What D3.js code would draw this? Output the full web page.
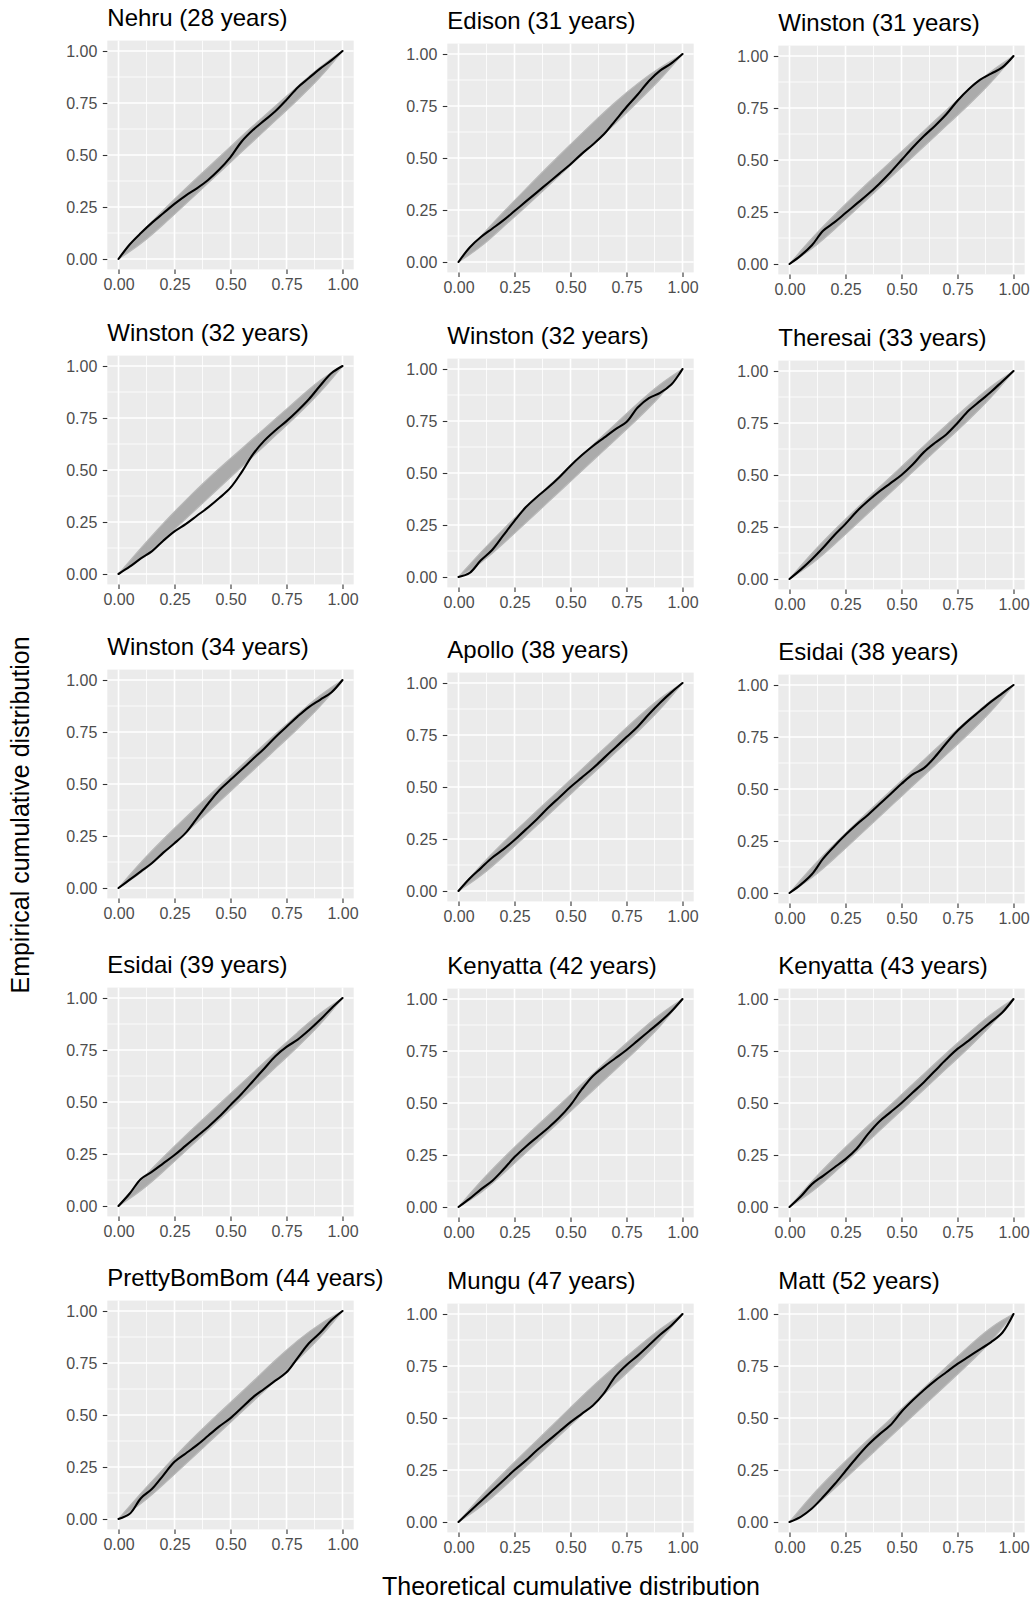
<!DOCTYPE html>
<html>
<head>
<meta charset="utf-8">
<script src="https://cdn.jsdelivr.net/npm/d3@7"></script>
<style>
body{margin:0;background:#fff;}
svg text{font-family:"Liberation Sans",Arial,Helvetica,sans-serif;}
</style>
</head>
<body>
<svg id="chart" width="1033" height="1602"></svg>
<script>
//data------------------------------------------------------
var panelNames=["Nehru","Edison","Winston","Winston","Winston","Theresai","Winston","Apollo","Esidai","Esidai","Kenyatta","Kenyatta","PrettyBomBom","Mungu","Matt"];
var panelAges=[28,31,31,32,32,33,34,38,38,39,42,43,44,47,52];

var tickValues=[0,0.25,0.5,0.75,1];
var minorValues=[0.125,0.375,0.625,0.875];

//theoretical values the curves were read at
var obsX=[0,0.05,0.1,0.15,0.2,0.25,0.3,0.35,0.4,0.45,0.5,0.55,0.6,0.65,0.7,0.75,0.8,0.85,0.9,0.95,1];
var bandX=[0,0.1,0.2,0.3,0.4,0.5,0.6,0.7,0.8,0.9,1];

//observed (black) curves
var nehruObs=[0,0.07,0.125,0.175,0.22,0.265,0.305,0.34,0.38,0.43,0.49,0.565,0.62,0.665,0.71,0.765,0.825,0.87,0.915,0.955,1];
var edisonObs=[0,0.07,0.12,0.16,0.2,0.245,0.29,0.335,0.38,0.425,0.47,0.52,0.565,0.615,0.68,0.745,0.805,0.87,0.92,0.955,1];
var winston31Obs=[0,0.04,0.09,0.16,0.2,0.245,0.29,0.335,0.385,0.44,0.5,0.56,0.615,0.665,0.72,0.785,0.84,0.885,0.915,0.945,1];
var winston32aObs=[0,0.035,0.075,0.11,0.16,0.205,0.24,0.28,0.32,0.365,0.415,0.49,0.575,0.64,0.69,0.735,0.785,0.84,0.905,0.965,1];
var winston32bObs=[0,0.02,0.08,0.13,0.2,0.27,0.335,0.385,0.43,0.48,0.535,0.585,0.63,0.67,0.71,0.745,0.815,0.86,0.885,0.925,1];
var theresaiObs=[0,0.045,0.095,0.15,0.21,0.265,0.325,0.375,0.42,0.46,0.5,0.55,0.61,0.655,0.695,0.75,0.81,0.855,0.9,0.95,1];
var winston34Obs=[0,0.04,0.08,0.12,0.17,0.215,0.265,0.335,0.405,0.47,0.52,0.57,0.62,0.67,0.725,0.775,0.825,0.87,0.905,0.94,1];
var apolloObs=[0,0.06,0.11,0.16,0.2,0.245,0.295,0.345,0.4,0.45,0.5,0.545,0.59,0.64,0.69,0.74,0.79,0.85,0.905,0.955,1];
var esidai38Obs=[0,0.04,0.09,0.165,0.225,0.28,0.33,0.375,0.425,0.475,0.525,0.57,0.6,0.655,0.72,0.78,0.83,0.875,0.92,0.96,1];
var esidai39Obs=[0,0.06,0.13,0.165,0.205,0.245,0.29,0.335,0.38,0.43,0.485,0.54,0.6,0.66,0.72,0.765,0.8,0.845,0.895,0.95,1];
var kenyatta42Obs=[0,0.04,0.085,0.125,0.18,0.24,0.29,0.335,0.38,0.43,0.49,0.565,0.63,0.675,0.715,0.755,0.8,0.845,0.89,0.94,1];
var kenyatta43Obs=[0,0.05,0.11,0.15,0.19,0.23,0.28,0.35,0.41,0.455,0.5,0.55,0.6,0.655,0.71,0.76,0.8,0.845,0.89,0.935,1];
var prettyObs=[0,0.025,0.1,0.145,0.21,0.275,0.315,0.355,0.4,0.445,0.485,0.535,0.585,0.625,0.665,0.705,0.775,0.845,0.895,0.955,1];
var munguObs=[0,0.05,0.1,0.15,0.2,0.25,0.295,0.345,0.39,0.435,0.48,0.52,0.56,0.62,0.7,0.755,0.8,0.85,0.9,0.945,1];
var mattObs=[0,0.025,0.065,0.12,0.18,0.245,0.31,0.37,0.42,0.465,0.53,0.585,0.635,0.68,0.72,0.76,0.795,0.83,0.865,0.91,1];

//grey envelope of the simulated curves (lower / upper edge)
var nehruLo=[0,0.07,0.165,0.265,0.365,0.465,0.565,0.665,0.765,0.87,1];
var nehruHi=[0,0.125,0.235,0.34,0.44,0.54,0.64,0.735,0.83,0.925,1];
var edisonLo=[0,0.07,0.17,0.265,0.365,0.465,0.565,0.665,0.77,0.875,1];
var edisonHi=[0,0.125,0.24,0.35,0.46,0.565,0.67,0.77,0.86,0.935,1];
var winston31Lo=[0,0.07,0.165,0.265,0.365,0.465,0.565,0.665,0.765,0.87,1];
var winston31Hi=[0,0.125,0.235,0.34,0.44,0.54,0.64,0.74,0.835,0.93,1];
var winston32aLo=[0,0.07,0.165,0.265,0.365,0.465,0.565,0.665,0.765,0.87,1];
var winston32aHi=[0,0.125,0.245,0.355,0.46,0.555,0.65,0.745,0.84,0.935,1];
var winston32bLo=[0,0.065,0.16,0.26,0.36,0.46,0.56,0.66,0.76,0.865,1];
var winston32bHi=[0,0.12,0.23,0.335,0.435,0.535,0.635,0.735,0.835,0.93,1];
var theresaiLo=[0,0.07,0.165,0.265,0.365,0.465,0.565,0.665,0.765,0.87,1];
var theresaiHi=[0,0.125,0.235,0.34,0.44,0.54,0.64,0.74,0.835,0.93,1];
var winston34Lo=[0,0.07,0.165,0.265,0.365,0.465,0.565,0.665,0.765,0.87,1];
var winston34Hi=[0,0.125,0.235,0.34,0.44,0.54,0.64,0.74,0.835,0.93,1];
var apolloLo=[0,0.07,0.165,0.265,0.365,0.465,0.565,0.665,0.765,0.87,1];
var apolloHi=[0,0.125,0.235,0.335,0.435,0.535,0.635,0.735,0.835,0.93,1];
var esidai38Lo=[0,0.07,0.165,0.265,0.365,0.465,0.565,0.665,0.765,0.87,1];
var esidai38Hi=[0,0.125,0.235,0.34,0.44,0.54,0.64,0.74,0.835,0.93,1];
var esidai39Lo=[0,0.07,0.165,0.265,0.365,0.465,0.565,0.665,0.765,0.87,1];
var esidai39Hi=[0,0.125,0.235,0.34,0.44,0.54,0.64,0.74,0.835,0.93,1];
var kenyatta42Lo=[0,0.065,0.16,0.26,0.36,0.46,0.56,0.66,0.76,0.865,1];
var kenyatta42Hi=[0,0.125,0.235,0.34,0.44,0.54,0.64,0.74,0.835,0.93,1];
var kenyatta43Lo=[0,0.07,0.165,0.265,0.365,0.465,0.565,0.665,0.765,0.87,1];
var kenyatta43Hi=[0,0.125,0.235,0.34,0.44,0.54,0.64,0.74,0.835,0.93,1];
var prettyLo=[0,0.07,0.165,0.265,0.365,0.465,0.565,0.665,0.765,0.87,1];
var prettyHi=[0,0.125,0.24,0.355,0.46,0.56,0.66,0.765,0.86,0.94,1];
var munguLo=[0,0.07,0.165,0.265,0.365,0.465,0.565,0.665,0.765,0.87,1];
var munguHi=[0,0.125,0.235,0.34,0.445,0.55,0.655,0.75,0.84,0.93,1];
var mattLo=[0,0.06,0.16,0.26,0.36,0.46,0.56,0.66,0.76,0.865,1];
var mattHi=[0,0.13,0.24,0.345,0.445,0.545,0.645,0.745,0.845,0.94,1];

var obsSeries=[nehruObs,edisonObs,winston31Obs,winston32aObs,winston32bObs,theresaiObs,winston34Obs,apolloObs,esidai38Obs,esidai39Obs,kenyatta42Obs,kenyatta43Obs,prettyObs,munguObs,mattObs];
var loSeries=[nehruLo,edisonLo,winston31Lo,winston32aLo,winston32bLo,theresaiLo,winston34Lo,apolloLo,esidai38Lo,esidai39Lo,kenyatta42Lo,kenyatta43Lo,prettyLo,munguLo,mattLo];
var hiSeries=[nehruHi,edisonHi,winston31Hi,winston32aHi,winston32bHi,theresaiHi,winston34Hi,apolloHi,esidai38Hi,esidai39Hi,kenyatta42Hi,kenyatta43Hi,prettyHi,munguHi,mattHi];

//layout: where each panel's (0,1) corner sits---------------
var colX=[118.5,458.5,789.5];
var rowTop=[[51,54,56],[366,369,371],[680,683,685],[998,999,999],[1311,1314,1314]];
var unitW=224, unitH=208;

var svg=d3.select("#chart");
var fmt=d3.format(".2f");

//draws one small panel------------------------------------
function drawPanel(i){
var col=i%3, row=Math.floor(i/3);
var x=d3.scaleLinear().domain([0,1]).range([colX[col],colX[col]+unitW]);
var y=d3.scaleLinear().domain([0,1]).range([rowTop[row][col]+unitH,rowTop[row][col]]);
var left=x(-0.05), right=x(1.05), top=y(1.05), bottom=y(-0.05);

var g=svg.append("g");

//grey background
g.append("rect")
	.attr("x",left).attr("y",top)
	.attr("width",right-left).attr("height",bottom-top)
	.style("fill","#EBEBEB");

//minor grid
g.selectAll("line.minx").data(minorValues).enter().append("line")
	.attr("x1",d=>x(d)).attr("x2",d=>x(d)).attr("y1",top).attr("y2",bottom)
	.style("stroke","#fff").style("stroke-width",0.8);
g.selectAll("line.miny").data(minorValues).enter().append("line")
	.attr("y1",d=>y(d)).attr("y2",d=>y(d)).attr("x1",left).attr("x2",right)
	.style("stroke","#fff").style("stroke-width",0.8);
//major grid
g.selectAll("line.majx").data(tickValues).enter().append("line")
	.attr("x1",d=>x(d)).attr("x2",d=>x(d)).attr("y1",top).attr("y2",bottom)
	.style("stroke","#fff").style("stroke-width",1.6);
g.selectAll("line.majy").data(tickValues).enter().append("line")
	.attr("y1",d=>y(d)).attr("y2",d=>y(d)).attr("x1",left).attr("x2",right)
	.style("stroke","#fff").style("stroke-width",1.6);

//grey band of simulated curves
var band=bandX.map(function(v,k){return {x:v,lo:loSeries[i][k],hi:hiSeries[i][k]};});
var area=d3.area()
	.x(d=>x(d.x)).y0(d=>y(d.lo)).y1(d=>y(d.hi))
	.curve(d3.curveBasis);
g.append("path").attr("d",area(band))
	.style("fill","#ABABAB").style("stroke","#B8B8B8").style("stroke-width",1.2);

//observed curve
var pts=obsX.map(function(v,k){return [v,obsSeries[i][k]];});
var line=d3.line().x(d=>x(d[0])).y(d=>y(d[1])).curve(d3.curveCatmullRom.alpha(0.5));
g.append("path").attr("d",line(pts))
	.style("fill","none").style("stroke","#000").style("stroke-width",2.1)
	.style("stroke-linejoin","round").style("stroke-linecap","round");

//axes
var ax=g.append("g").attr("transform","translate("+left+",0)")
	.call(d3.axisLeft(y).tickValues(tickValues).tickFormat(fmt).tickSize(4.5).tickPadding(5.5));
var bx=g.append("g").attr("transform","translate(0,"+bottom+")")
	.call(d3.axisBottom(x).tickValues(tickValues).tickFormat(fmt).tickSize(4.5).tickPadding(4.5));
[ax,bx].forEach(function(a){
	a.select(".domain").remove();
	a.selectAll("line").style("stroke","#333").style("stroke-width",1.1);
	a.selectAll("text").style("fill","#4D4D4D").style("font-size","16px")
		.style("font-family","'Liberation Sans',Arial,sans-serif");
});

//panel title
g.append("text")
	.attr("x",left).attr("y",y(1)-25)
	.style("font-size","24px").style("fill","#000")
	.text(panelNames[i]+" ("+panelAges[i]+" years)");
}

for(var i=0;i<panelNames.length;i++){drawPanel(i);}

//shared axis titles
svg.append("text")
	.attr("transform","translate(29,815) rotate(-90)")
	.attr("text-anchor","middle")
	.style("font-size","25px").style("fill","#000")
	.text("Empirical cumulative distribution");
svg.append("text")
	.attr("x",571).attr("y",1595)
	.attr("text-anchor","middle")
	.style("font-size","25px").style("fill","#000")
	.text("Theoretical cumulative distribution");
</script>
</body>
</html>
